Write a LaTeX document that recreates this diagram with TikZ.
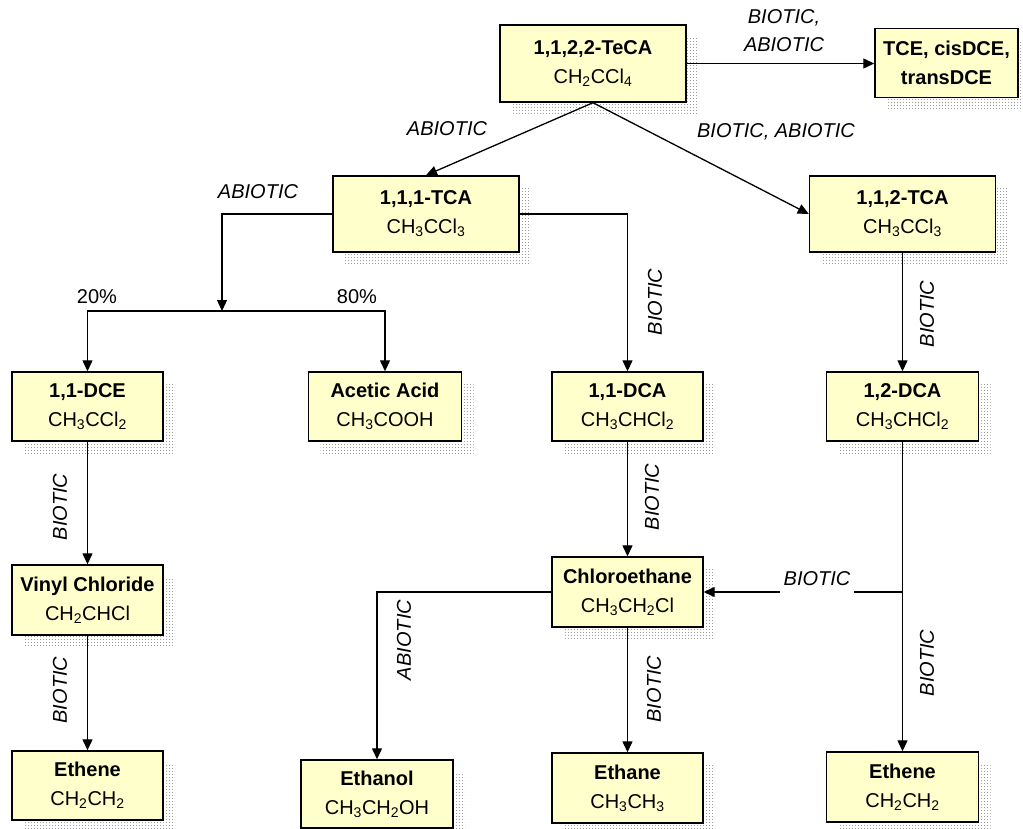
\documentclass[tikz,border=0pt]{standalone}
\usepackage{fontspec}
\setmainfont{Liberation Sans}
\usetikzlibrary{shadows,patterns,arrows.meta}
\definecolor{boxyellow}{RGB}{255,255,204}
\pgfdeclarepatternformonly{finedots}{\pgfqpoint{0pt}{0pt}}{\pgfqpoint{2.5pt}{2.5pt}}{\pgfqpoint{2.5pt}{2.5pt}}{\pgfpathrectangle{\pgfqpoint{0pt}{0pt}}{\pgfqpoint{1pt}{1pt}}\pgfusepath{fill}}
\tikzset{
  chembox/.style={draw=black, line width=1.4pt, fill=boxyellow, align=center, inner sep=0pt,
    font=\fontsize{20}{29}\selectfont,
    general shadow={shadow xshift=12pt, shadow yshift=-12pt, pattern=finedots, pattern color=gray!75, draw=none}},
  arr/.style={line width=1.3pt, -{Triangle[length=11pt,width=10pt]}},
  lbl/.style={font=\fontsize{20}{28}\selectfont\itshape, inner sep=1pt, align=center},
  pct/.style={font=\fontsize{20}{28}\selectfont, inner sep=1pt}
}
\newcommand{\sub}[1]{\textsubscript{#1}}
\begin{document}
\begin{tikzpicture}[x=1pt,y=-1pt]
\useasboundingbox (0,0) rectangle (1023,829);
% boxes
\node[chembox, minimum width=186pt, minimum height=77pt] (teca) at (593,63.5) {\textbf{1,1,2,2-TeCA}\\CH\sub{2}CCl\sub{4}};
\node[chembox, minimum width=143pt, minimum height=69pt] (tce) at (946.5,63) {\textbf{TCE, cisDCE,}\\\textbf{transDCE}};
\node[chembox, minimum width=186pt, minimum height=76pt] (tcaA) at (426,214) {\textbf{1,1,1-TCA}\\CH\sub{3}CCl\sub{3}};
\node[chembox, minimum width=186pt, minimum height=76pt] (tcaB) at (902.5,214) {\textbf{1,1,2-TCA}\\CH\sub{3}CCl\sub{3}};
\node[chembox, minimum width=151pt, minimum height=69pt] (dce) at (87.5,406.5) {\textbf{1,1-DCE}\\CH\sub{3}CCl\sub{2}};
\node[chembox, minimum width=153pt, minimum height=69pt] (acetic) at (385,406.5) {\textbf{Acetic Acid}\\CH\sub{3}COOH};
\node[chembox, minimum width=151pt, minimum height=69pt] (dcaA) at (627.5,406.5) {\textbf{1,1-DCA}\\CH\sub{3}CHCl\sub{2}};
\node[chembox, minimum width=152pt, minimum height=69pt] (dcaB) at (902.5,406.5) {\textbf{1,2-DCA}\\CH\sub{3}CHCl\sub{2}};
\node[chembox, minimum width=151pt, minimum height=70pt] (vinyl) at (87.5,600) {\textbf{Vinyl Chloride}\\CH\sub{2}CHCl};
\node[chembox, minimum width=151pt, minimum height=70pt] (chloro) at (627.5,592) {\textbf{Chloroethane}\\CH\sub{3}CH\sub{2}Cl};
\node[chembox, minimum width=151pt, minimum height=69pt] (etheneL) at (87.5,785.5) {\textbf{Ethene}\\CH\sub{2}CH\sub{2}};
\node[chembox, minimum width=152pt, minimum height=68pt] (ethanol) at (377,794) {\textbf{Ethanol}\\CH\sub{3}CH\sub{2}OH};
\node[chembox, minimum width=151pt, minimum height=70pt] (ethane) at (627.5,788) {\textbf{Ethane}\\CH\sub{3}CH\sub{3}};
\node[chembox, minimum width=152pt, minimum height=70pt] (etheneR) at (902.5,787) {\textbf{Ethene}\\CH\sub{2}CH\sub{2}};
% junction coordinates
\coordinate (split) at (222,311);
\coordinate (jr) at (902.5,592);
% connectors
\draw[arr] (teca.east) -- (teca.east -| tce.west);
\draw[arr] (teca.south) -- (tcaA.north);
\draw[arr] (teca.south) -- (tcaB.west);
\draw[arr] (tcaA.west) -| (split);
\draw[arr] (split) -| (dce.north);
\draw[arr] (split) -| (acetic.north);
\draw[arr] (tcaA.east) -| (dcaA.north);
\draw[arr] (tcaB.south) -- (dcaB.north);
\draw[arr] (dce.south) -- (vinyl.north);
\draw[arr] (vinyl.south) -- (etheneL.north);
\draw[arr] (dcaA.south) -- (chloro.north);
\draw[arr] (chloro.west) -| (ethanol.north);
\draw[arr] (chloro.south) -- (ethane.north);
\draw[arr] (dcaB.south) -- (etheneR.north);
\draw[arr] (jr) -- (chloro.east);
% labels
\node[lbl] (l1) at (784,31) {BIOTIC,\\ABIOTIC};
\node[lbl] (l2) at (447,129) {ABIOTIC};
\node[lbl] (l3) at (776,132) {BIOTIC, ABIOTIC};
\node[lbl] (l4) at (258,192) {ABIOTIC};
\node[pct] (p20) at (97,297) {20\%};
\node[pct] (p80) at (357,297) {80\%};
\node[lbl, rotate=90] (l5) at (655,302) {BIOTIC};
\node[lbl, rotate=90] (l6) at (927,314) {BIOTIC};
\node[lbl, rotate=90] (l7) at (60,507) {BIOTIC};
\node[lbl, rotate=90] (l8) at (60,690) {BIOTIC};
\node[lbl, rotate=90] (l9) at (652,497) {BIOTIC};
\node[lbl, rotate=90] (l10) at (654,689) {BIOTIC};
\node[lbl, rotate=90] (l11) at (927,663) {BIOTIC};
\node[lbl, rotate=90] (l12) at (404,640) {ABIOTIC};
\node[lbl, fill=white, inner xsep=4pt, inner ysep=10pt] (l13) at (817,579) {BIOTIC};
\end{tikzpicture}
\end{document}
